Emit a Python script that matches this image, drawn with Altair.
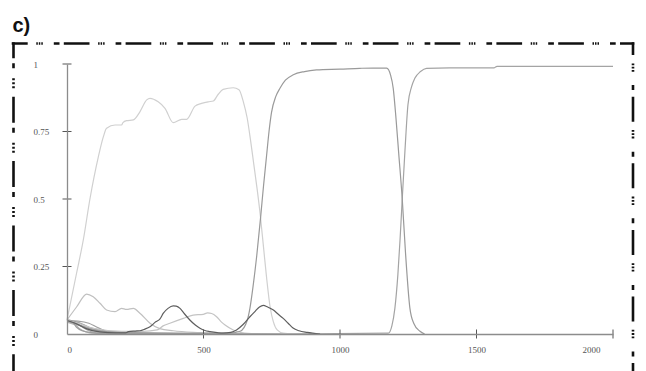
import altair as alt
import pandas as pd

# ---------------- data ----------------
# big light plateau line
s1_t = [0, 35, 60, 84, 115, 133, 145, 176, 200, 205, 218, 243, 267, 292, 304, 334, 359, 389,
        420, 438, 469, 493, 517, 536, 554, 572, 609, 630, 646, 660, 672, 684, 696, 708, 720,
        732, 744, 756, 770, 792, 830]
s1_v = [0.052, 0.225, 0.35, 0.50, 0.657, 0.73, 0.762, 0.774, 0.774, 0.783, 0.79, 0.793, 0.823,
        0.867, 0.873, 0.86, 0.836, 0.783, 0.795, 0.795, 0.844, 0.854, 0.86, 0.863, 0.888, 0.906,
        0.912, 0.905, 0.86, 0.80, 0.72, 0.63, 0.54, 0.44, 0.32, 0.20, 0.10, 0.045, 0.015, 0.003, 0.0]

# medium line: rises near 700, falls near 1230
s2_t = [0, 40, 100, 200, 400, 600, 634, 660, 670, 682, 695, 709, 720, 731, 740, 749, 765, 780,
        800, 829, 870, 914, 1000, 1073, 1120, 1171, 1185, 1195, 1205, 1215, 1228, 1240, 1256,
        1270, 1293, 1310]
s2_v = [0.05, 0.035, 0.015, 0.005, 0.002, 0.004, 0.01, 0.05, 0.095, 0.18, 0.29, 0.43, 0.55, 0.66,
        0.75, 0.82, 0.88, 0.91, 0.94, 0.96, 0.972, 0.978, 0.981, 0.984, 0.985, 0.985, 0.96, 0.91,
        0.80, 0.67, 0.50, 0.30, 0.096, 0.04, 0.01, 0.0]

# line rising near 1230 and staying up
s3_t = [0, 30, 70, 120, 200, 400, 800, 1177, 1190, 1201, 1212, 1220, 1228, 1238, 1249, 1262,
        1274, 1295, 1317, 1402, 1565, 1575, 2000]
s3_v = [0.047, 0.04, 0.02, 0.008, 0.003, 0.001, 0.0, 0.003, 0.03, 0.095, 0.22, 0.35, 0.50, 0.68,
        0.85, 0.915, 0.947, 0.972, 0.984, 0.986, 0.986, 0.991, 0.991]

# dark line with two small peaks
s4_t = [0, 30, 70, 120, 180, 215, 225, 250, 267, 285, 304, 325, 340, 353, 370, 389, 400, 414,
        430, 450, 470, 487, 505, 524, 550, 572, 600, 621, 645, 670, 690, 705, 719, 735, 756,
        775, 792, 810, 828, 850, 880, 927]
s4_v = [0.05, 0.04, 0.02, 0.008, 0.004, 0.004, 0.009, 0.011, 0.012, 0.018, 0.027, 0.045, 0.055,
        0.077, 0.095, 0.104, 0.103, 0.095, 0.075, 0.052, 0.033, 0.021, 0.013, 0.009, 0.005, 0.003,
        0.006, 0.015, 0.035, 0.064, 0.085, 0.10, 0.106, 0.10, 0.089, 0.072, 0.058, 0.04, 0.022,
        0.012, 0.006, 0.0]

# light line with early bump
s5_t = [0, 35, 72, 96, 121, 145, 176, 200, 218, 243, 267, 304, 340, 389, 487, 600]
s5_v = [0.052, 0.10, 0.148, 0.138, 0.114, 0.089, 0.083, 0.095, 0.091, 0.095, 0.077, 0.04, 0.02,
        0.012, 0.005, 0.0]

# light line with bump near 530
s6_t = [0, 40, 100, 200, 280, 330, 352, 377, 426, 462, 499, 515, 530, 548, 565, 579, 609, 640, 700]
s6_v = [0.05, 0.04, 0.02, 0.01, 0.01, 0.015, 0.03, 0.04, 0.058, 0.07, 0.073, 0.078, 0.076, 0.064,
        0.045, 0.033, 0.015, 0.005, 0.0]

# cluster of quickly decaying lines
c1_t = [0, 20, 50, 80, 110, 150, 300]
c1_v = [0.048, 0.045, 0.03, 0.012, 0.004, 0.002, 0.0]
c2_t = [0, 30, 60, 90, 130, 170, 300, 400]
c2_v = [0.05, 0.046, 0.035, 0.02, 0.008, 0.004, 0.002, 0.0]
c3_t = [0, 25, 45, 70, 100, 200]
c3_v = [0.046, 0.04, 0.02, 0.008, 0.003, 0.0]
c4_t = [0, 40, 80, 110, 140, 180, 230, 350, 500]
c4_v = [0.05, 0.048, 0.04, 0.025, 0.012, 0.006, 0.003, 0.002, 0.0]
c5_t = [0, 30, 60, 100, 150, 210, 260, 400, 600, 900]
c5_v = [0.044, 0.035, 0.028, 0.02, 0.01, 0.006, 0.004, 0.003, 0.001, 0.0]
c6_t = [0, 15, 35, 55, 90, 140, 250]
c6_v = [0.052, 0.05, 0.025, 0.012, 0.005, 0.002, 0.0]

series_names = ["c1", "c2", "c3", "c4", "c5", "c6", "s6", "s5", "s1", "s3", "s2", "s4"]
series_colors = ["#a6a6a6", "#9a9a9a", "#b0b0b0", "#a0a0a0", "#b4b4b4", "#9c9c9c",
                 "#c4c4c4", "#c0c0c0", "#d0d0d0", "#a4a4a4", "#9a9a9a", "#5e5e5e"]
series_data = {
    "c1": (c1_t, c1_v), "c2": (c2_t, c2_v), "c3": (c3_t, c3_v), "c4": (c4_t, c4_v),
    "c5": (c5_t, c5_v), "c6": (c6_t, c6_v), "s6": (s6_t, s6_v), "s5": (s5_t, s5_v),
    "s1": (s1_t, s1_v), "s3": (s3_t, s3_v), "s2": (s2_t, s2_v), "s4": (s4_t, s4_v),
}

x_axis_values = [0, 500, 1000, 1500, 2000]
y_axis_values = [0, 0.25, 0.5, 0.75, 1]
x_tick_marks = [500, 1000, 1500, 2000]
y_tick_marks = [0.25, 0.5, 0.75, 1]
panel_label = "c)"

# ---------------- build ----------------
rows = []
for order, name in enumerate(series_names):
    ts, vs = series_data[name]
    for t, v in zip(ts, vs):
        rows.append({"t": t, "v": v, "series": name, "o": order})
df = pd.DataFrame(rows)

x_scale = alt.Scale(domain=[0, 2000], nice=False, zero=False)
y_scale = alt.Scale(domain=[0, 1], nice=False)

label_font = "Liberation Serif, Times New Roman, serif"

lines = alt.Chart(df).mark_line(strokeWidth=1.2, interpolate="monotone").encode(
    x=alt.X("t:Q", scale=x_scale, axis=alt.Axis(
        values=x_axis_values, format="d", ticks=False, grid=False, title=None,
        domainColor="#8c8c8c", domainWidth=1.3, labelFont=label_font, labelFontSize=9,
        labelColor="#555555", labelPadding=11, zindex=1,
        labelOffset={"condition": {"test": "datum.value == 2000", "value": -13}, "value": 0})),
    y=alt.Y("v:Q", scale=y_scale, axis=alt.Axis(
        values=y_axis_values, format=".2~f", ticks=False, grid=False, title=None,
        domainColor="#8c8c8c", domainWidth=1.3, labelFont=label_font, labelFontSize=9,
        labelColor="#555555", labelAlign="left", labelBaseline="middle", labelPadding=34,
        zindex=1)),
    color=alt.Color("series:N", scale=alt.Scale(domain=series_names, range=series_colors),
                    legend=None),
    order=alt.Order("o:Q"),
)

ytick_df = pd.DataFrame({"v": y_tick_marks})
yticks = alt.Chart(ytick_df).mark_tick(orient="horizontal", size=9, thickness=1,
                                       color="#555555", opacity=1).encode(
    y=alt.Y("v:Q", scale=y_scale), x=alt.value(0))

xtick_df = pd.DataFrame({"t": x_tick_marks})
xticks = alt.Chart(xtick_df).mark_tick(orient="vertical", size=9, thickness=1,
                                       color="#555555", opacity=1).encode(
    x=alt.X("t:Q", scale=x_scale), y=alt.value(270))

one = pd.DataFrame({"k": [0]})
border_color = "#111111"
bw = 2.6
top_rule = alt.Chart(one).mark_rule(
    color=border_color, strokeWidth=bw,
    strokeDash=[25.7, 8.6, 1.5, 1, 1.5, 1, 1.5, 11, 5.7, 4.3], strokeDashOffset=9.7).encode(
    x=alt.value(-55.3), x2=alt.value(567.3), y=alt.value(-20.5))
right_rule = alt.Chart(one).mark_rule(
    color=border_color, strokeWidth=bw,
    strokeDash=[25, 8.3, 1.8, 1.5, 1.8, 1.5, 1.8, 13.3, 5, 6.6], strokeDashOffset=12.1).encode(
    x=alt.value(566), y=alt.value(-21.8), y2=alt.value(330))
left_rule = alt.Chart(one).mark_rule(
    color=border_color, strokeWidth=bw,
    strokeDash=[26, 5, 5, 10, 2, 2, 2, 2, 2, 8.4], strokeDashOffset=9.9).encode(
    x=alt.value(-53.5), y=alt.value(-21.8), y2=alt.value(330))

title = alt.Chart(one).mark_text(
    text=panel_label, font="Liberation Sans, Arial, sans-serif", fontSize=20,
    fontWeight="bold", align="left", baseline="alphabetic", color="#111111").encode(
    x=alt.value(-54.5), y=alt.value(-32.3))

chart = alt.layer(lines, yticks, xticks, top_rule, right_rule, left_rule, title).properties(
    width=546, height=270,
    autosize=alt.AutoSizeParams(type="none"),
    padding={"left": 59, "top": 56, "right": 23, "bottom": 37},
).configure_view(stroke="transparent")

chart.save("out.html", embed_options={"renderer": "svg", "actions": False})
